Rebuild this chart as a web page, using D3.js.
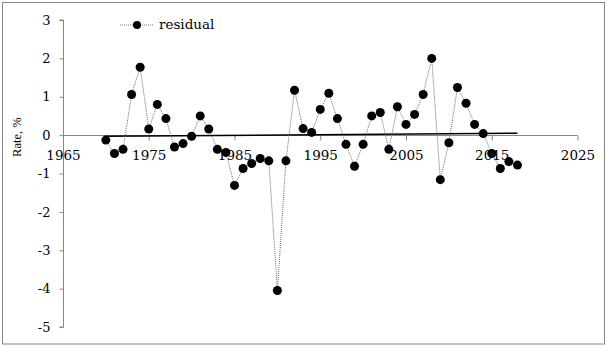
<!DOCTYPE html>
<html>
<head>
<meta charset="utf-8">
<script src="https://cdn.jsdelivr.net/npm/d3@7"></script>
<style>
  html, body { margin: 0; padding: 0; background: #fff; }
  svg { display: block; }
  text { font-family: "DejaVu Serif", "Liberation Serif", serif; fill: #000; }
</style>
</head>
<body>
<svg id="chart" width="607" height="349"></svg>
<script>
// Annual residuals of the rate, %
const years = [1970, 1971, 1972, 1973, 1974, 1975, 1976, 1977, 1978, 1979,
               1980, 1981, 1982, 1983, 1984, 1985, 1986, 1987, 1988, 1989,
               1990, 1991, 1992, 1993, 1994, 1995, 1996, 1997, 1998, 1999,
               2000, 2001, 2002, 2003, 2004, 2005, 2006, 2007, 2008, 2009,
               2010, 2011, 2012, 2013, 2014, 2015, 2016, 2017, 2018];
const residual = [-0.13, -0.48, -0.37, 1.06, 1.77, 0.16, 0.80, 0.43, -0.31, -0.22,
                  -0.03, 0.50, 0.16, -0.37, -0.45, -1.31, -0.87, -0.74, -0.61, -0.67,
                  -4.05, -0.67, 1.17, 0.17, 0.07, 0.67, 1.09, 0.43, -0.24, -0.81,
                  -0.24, 0.50, 0.59, -0.37, 0.74, 0.28, 0.54, 1.06, 2.00, -1.16,
                  -0.20, 1.24, 0.83, 0.28, 0.04, -0.48, -0.87, -0.69, -0.78];

// Linear trend through the residuals
const trendYears = [1970, 2018];
const trendValues = [-0.03, 0.05];

// Axis ticks
const xTicks = [1965, 1975, 1985, 1995, 2005, 2015, 2025];
const yTicks = [3, 2, 1, 0, -1, -2, -3, -4, -5];
const yTickLabels = ["3", "2", "1", "0", "-1", "-2", "-3", "-4", "-5"];

const seriesName = "residual";
const yTitle = "Rate, %";

const svg = d3.select("#chart");
const axisColor = "#868686";

// Chart frame
svg.append("rect")
  .attr("x", 2.5).attr("y", 2.5)
  .attr("width", 602).attr("height", 341.5)
  .attr("fill", "#fff").attr("stroke", axisColor).attr("stroke-width", 1);

const x = d3.scaleLinear().domain([1965, 2025]).range([63, 577.5]);
const y = d3.scaleLinear().domain([-5, 3]).range([327, 20]);

// Y axis (left edge of plot)
const yAxis = d3.axisLeft(y)
  .tickValues(yTicks)
  .tickSize(4)
  .tickPadding(9)
  .tickFormat((d, i) => yTickLabels[i]);
const gy = svg.append("g")
  .attr("transform", `translate(${Math.round(x(1965)) + 0.5},0)`)
  .call(yAxis);
gy.select(".domain").attr("stroke", axisColor).attr("d", `M-4,${y(3)}H0V${y(-5)}H-4`);
gy.selectAll(".tick line").attr("stroke", axisColor);
gy.selectAll(".tick text")
  .style("font-family", "'DejaVu Serif', serif")
  .style("font-size", "13px");

// X axis runs through zero
const xAxis = d3.axisBottom(x)
  .tickValues(xTicks)
  .tickSize(5)
  .tickPadding(10)
  .tickFormat(d3.format("d"));
const gx = svg.append("g")
  .attr("transform", `translate(0,${Math.round(y(0)) + 0.5})`)
  .call(xAxis);
gx.select(".domain").attr("stroke", axisColor).attr("d", `M${x(1965)},0H${x(2025)}`);
gx.selectAll(".tick line").attr("stroke", axisColor);
gx.selectAll(".tick text")
  .style("font-family", "'DejaVu Serif', serif")
  .style("font-size", "13.5px");

// Y axis title
svg.append("text")
  .attr("transform", `translate(21,${y(0) + 2}) rotate(-90)`)
  .attr("text-anchor", "middle")
  .style("font-family", "'Liberation Serif', serif")
  .style("font-size", "12.5px")
  .text(yTitle);

// Trend line
const trend = trendYears.map((t, i) => [t, trendValues[i]]);
svg.append("path")
  .datum(trend)
  .attr("fill", "none")
  .attr("stroke", "#000")
  .attr("stroke-width", 1.5)
  .attr("d", d3.line().x(d => x(d[0])).y(d => y(d[1])));

// Residual series: dotted line with markers
const pts = years.map((t, i) => [t, residual[i]]);
svg.append("path")
  .datum(pts)
  .attr("fill", "none")
  .attr("stroke", "#6e6e6e")
  .attr("stroke-width", 1)
  .attr("stroke-dasharray", "1,1")
  .attr("d", d3.line().x(d => x(d[0])).y(d => y(d[1])));

svg.append("g").selectAll("circle")
  .data(pts)
  .join("circle")
  .attr("cx", d => x(d[0]))
  .attr("cy", d => y(d[1]))
  .attr("r", 4.5)
  .attr("fill", "#000");

// Legend
const lg = svg.append("g").attr("transform", "translate(0,25)");
lg.append("line")
  .attr("x1", 120).attr("x2", 154).attr("y1", 0).attr("y2", 0)
  .attr("stroke", "#6e6e6e").attr("stroke-width", 1).attr("stroke-dasharray", "1,1");
lg.append("circle").attr("cx", 137).attr("cy", 0).attr("r", 4).attr("fill", "#000");
lg.append("text")
  .attr("x", 159).attr("y", 4)
  .style("font-size", "13.5px")
  .text(seriesName);
</script>
</body>
</html>
